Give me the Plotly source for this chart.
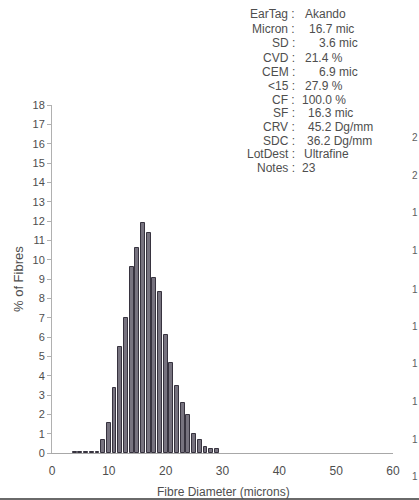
import plotly.graph_objects as go

# ---- data ----
diameters = [4, 5, 6, 7, 8, 9, 10, 11, 12, 13, 14, 15, 16, 17, 18, 19, 20, 21, 22,
             23, 24, 25, 26, 27, 28, 29]
pct_fibres = [0.04, 0.06, 0.04, 0.05, 0.05, 0.67, 1.55, 3.35, 5.5, 7.0, 9.6, 10.6, 11.9,
              11.4, 9.05, 8.35, 6.1, 4.65, 3.45, 2.6, 1.95, 1.0, 0.67, 0.3, 0.2, 0.2]
x_ticks = [0, 10, 20, 30, 40, 50, 60]
y_ticks = list(range(0, 19))

info_labels = ["EarTag", "Micron", "SD", "CVD", "CEM", "<15", "CF", "SF", "CRV", "SDC",
               "LotDest", "Notes"]
info_values = ["Akando", "16.7 mic", "3.6 mic", "21.4 %", "6.9 mic", "27.9 %", "100.0 %",
               "16.3 mic", "45.2 Dg/mm", "36.2 Dg/mm", "Ultrafine", "23"]
edge_fragments = ["2", "2", "1", "1", "1", "1", "1", "1", "1", "1"]

# ---- layout helpers (pixels) ----
W, H = 419, 500
ML, MR, MT, MB = 52, 26, 105, 47
PW, PH = W - ML - MR, H - MT - MB


def px2x(px):
    return (px - ML) / PW


def py2y(py):
    return (H - MB - py) / PH


info_rows_py = [14, 29, 43, 58, 72, 86, 100, 113, 127, 141, 154, 168]
info_value_px = [303, 307, 317, 303, 317, 303, 300, 306, 306, 305, 302, 300]
edge_rows_py = [137, 175, 212, 250, 289, 326, 363, 401, 439, 477]

TXT = "#4e4e4e"
FONT = "Liberation Sans, Arial, sans-serif"

fig = go.Figure()
fig.add_trace(go.Bar(
    x=diameters, y=pct_fibres, width=0.68,
    marker=dict(color="#77737f", line=dict(color="#37333f", width=1)),
    showlegend=False, hoverinfo="skip",
))

annotations = []
for lab, val, py, vpx in zip(info_labels, info_values, info_rows_py, info_value_px):
    annotations.append(dict(text=lab + " :", x=px2x(297), y=py2y(py), xref="paper", yref="paper",
                            xanchor="right", yanchor="middle", showarrow=False,
                            font=dict(family=FONT, size=12, color=TXT)))
    annotations.append(dict(text=val, x=px2x(vpx), y=py2y(py), xref="paper", yref="paper",
                            xanchor="left", yanchor="middle", showarrow=False,
                            font=dict(family=FONT, size=12, color=TXT)))

for t, py in zip(edge_fragments, edge_rows_py):
    annotations.append(dict(text=t, x=px2x(410), y=py2y(py), xref="paper", yref="paper",
                            xanchor="left", yanchor="middle", showarrow=False,
                            font=dict(family=FONT, size=10, color="#606060")))

# axis titles
annotations.append(dict(text="% of Fibres", x=px2x(18), y=py2y(279), xref="paper", yref="paper",
                        xanchor="center", yanchor="middle", textangle=-90, showarrow=False,
                        font=dict(family=FONT, size=13, color=TXT)))
annotations.append(dict(text="Fibre Diameter (microns)", x=px2x(223), y=py2y(483), xref="paper",
                        yref="paper", xanchor="center", yanchor="top", showarrow=False,
                        font=dict(family=FONT, size=12, color=TXT)))

fig.update_layout(
    width=W, height=H,
    margin=dict(l=ML, r=MR, t=MT, b=MB),
    paper_bgcolor="white", plot_bgcolor="white",
    bargap=0,
    annotations=annotations,
    shapes=[dict(type="line", xref="paper", yref="paper", x0=px2x(0), x1=px2x(W),
                 y0=py2y(499), y1=py2y(499), line=dict(color="#6a6a6a", width=2), layer="above")],
    xaxis=dict(range=[0, 60], tickvals=x_ticks, ticktext=[str(v) for v in x_ticks],
               showgrid=False, zeroline=False, showline=True, linecolor="#a8a8a8", linewidth=1,
               ticks="outside", ticklen=7, tickcolor="rgba(0,0,0,0)",
               tickfont=dict(family=FONT, size=12, color=TXT)),
    yaxis=dict(range=[0, 18], tickvals=y_ticks, ticktext=[str(v) for v in y_ticks],
               showgrid=False, zeroline=False, showline=True, linecolor="#b0b0b0", linewidth=1,
               ticks="outside", ticklen=4, tickcolor="#b0b0b0",
               tickfont=dict(family=FONT, size=11, color=TXT)),
)

fig.write_html("out.html", config={"displayModeBar": False},
               post_script="document.body.style.margin='0';document.body.style.overflow='hidden';")
